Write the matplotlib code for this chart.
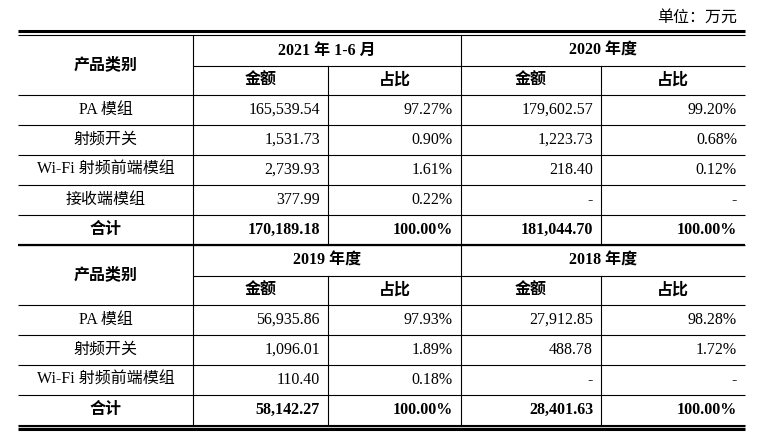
import matplotlib
matplotlib.use("Agg")
import matplotlib.pyplot as plt

unit = "单位：万元"
periods1 = ["2021 年 1-6 月", "2020 年度"]
periods2 = ["2019 年度", "2018 年度"]
sub = ["金额", "占比"]
cat_head = "产品类别"
cats1 = ["PA 模组", "射频开关", "Wi-Fi 射频前端模组", "接收端模组", "合计"]
vals1 = [["165,539.54", "97.27%", "179,602.57", "99.20%"],
         ["1,531.73", "0.90%", "1,223.73", "0.68%"],
         ["2,739.93", "1.61%", "218.40", "0.12%"],
         ["377.99", "0.22%", "-", "-"],
         ["170,189.18", "100.00%", "181,044.70", "100.00%"]]
cats2 = ["PA 模组", "射频开关", "Wi-Fi 射频前端模组", "合计"]
vals2 = [["56,935.86", "97.93%", "27,912.85", "98.28%"],
         ["1,096.01", "1.89%", "488.78", "1.72%"],
         ["110.40", "0.18%", "-", "-"],
         ["58,142.27", "100.00%", "28,401.63", "100.00%"]]

fam = ["Liberation Serif", "Noto Sans CJK SC"]
fs = 11.5
fig = plt.figure(figsize=(7.72, 4.43), dpi=100)
ax = fig.add_axes([0, 0, 1, 1])
ax.set_xlim(0, 772); ax.set_ylim(443, 0); ax.axis("off")

xs = [18, 193, 328, 461, 601, 745]
L, R = xs[0], xs[-1]

def hl(y, x0=L, x1=R, lw=0.8):
    ax.plot([x0, x1], [y, y], color="black", lw=lw, solid_capstyle="butt")

def vl(x, y0, y1, lw=0.8):
    ax.plot([x, x], [y0, y1], color="black", lw=lw)

def txt(x, y, s, ha="center", bold=False):
    ax.text(x, y, s, ha=ha, va="center", fontsize=fs, family=fam,
            fontweight="bold" if bold else "normal")

txt(R - 8, 18, unit, ha="right")

def block(top, periods, cats, vals):
    rh = 30
    y_h1, y_h2 = top, top + 31
    y_d = top + 60
    hl(y_h2, xs[1], R)
    hl(y_d)
    txt((xs[0] + xs[1]) / 2, (top + y_d) / 2, cat_head, bold=True)
    for k, p in enumerate(periods):
        txt((xs[1 + 2 * k] + xs[3 + 2 * k]) / 2, (y_h1 + y_h2) / 2, p, bold=True)
        for j, s in enumerate(sub):
            txt((xs[1 + 2 * k + j] + xs[2 + 2 * k + j]) / 2, (y_h2 + y_d) / 2, s, bold=True)
    for i, (c, row) in enumerate(zip(cats, vals)):
        y0 = y_d + i * rh
        bold = (c == "合计")
        txt((xs[0] + xs[1]) / 2, y0 + rh / 2, c, bold=bold)
        for j, v in enumerate(row):
            txt(xs[j + 2] - 8, y0 + rh / 2, v, ha="right", bold=bold)
        hl(y0 + rh)
    bottom = y_d + len(cats) * rh
    for x in xs:
        if x in (L, R):
            continue
        if x in (xs[2], xs[4]):
            vl(x, y_h2, bottom)
        else:
            vl(x, top, bottom)
    return bottom

hl(31, lw=2.2); hl(35, lw=0.8)
b1 = block(35, periods1, cats1, vals1)
hl(b1, lw=1.6)
b2 = block(b1, periods2, cats2, vals2)
hl(b2 + 1, lw=1.0); hl(b2 + 4, lw=2.2)

fig.savefig("out.png", dpi=100)
